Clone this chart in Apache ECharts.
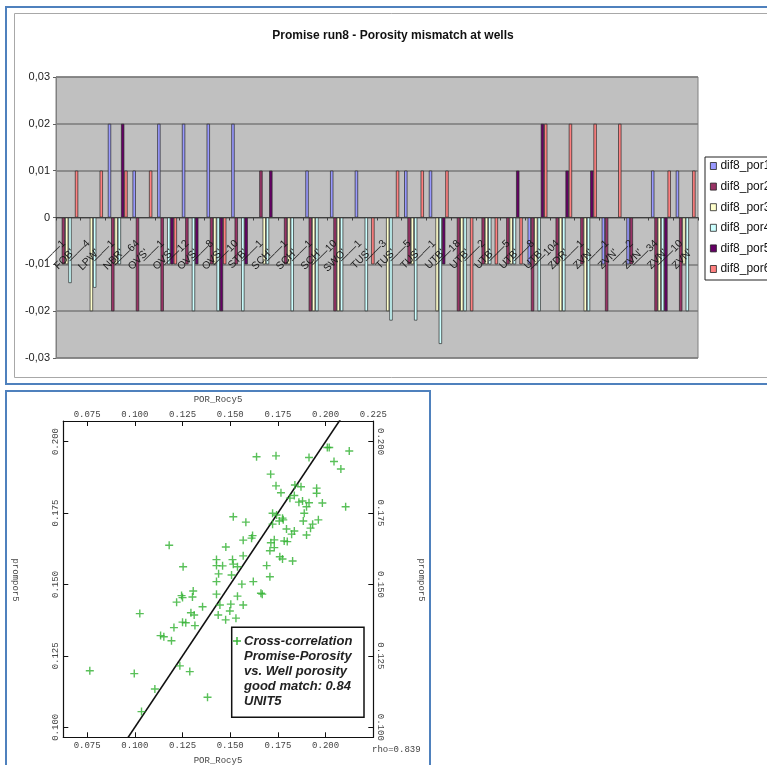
<!DOCTYPE html>
<html>
<head>
<meta charset="utf-8">
<script src="https://cdn.jsdelivr.net/npm/echarts@6/dist/echarts.min.js"></script>
<style>
  html, body { margin: 0; padding: 0; background: #fff; }
  #chart { width: 767px; height: 765px; }
</style>
</head>
<body>
<div id="chart"></div>
<script>
// ---- Porosity mismatch per well (bar chart) ----
const wellNames = ["FOB'", "LPW'", "NBR'", "OVS'", "OVS'", "OVS'", "OVS'", "STB'", "SCH'", "SCH'", "SCH'", "SWO'", "TUS'",
                   "TUS'", "TUS'", "UTB'", "UTB'", "UTB'", "UTB'", "UTB'", "ZDR'", "ZVN'", "ZVN'", "ZVN'", "ZVN'", "ZVN'"];
const wellNumbers = ["1", "4", "1", "64", "1", "12", "8", "10", "1", "1", "1", "10", "1",
                     "3", "5", "1", "18", "2", "5", "8", "104", "1", "1", "2", "34", "10"];
const seriesNames = ["dif8_por1", "dif8_por2", "dif8_por3", "dif8_por4", "dif8_por5", "dif8_por6"];
const difPor1 = [0, 0, 0.02, 0.01, 0.02, 0.02, 0.02, 0.02, 0, 0, 0.01, 0.01, 0.01, 0, 0.01, 0.01, 0, 0, 0, -0.01, 0, 0, -0.01, -0.01, 0.01, 0.01];
const difPor2 = [-0.01, 0, -0.02, -0.02, -0.02, -0.01, -0.01, -0.01, 0.01, -0.01, -0.02, -0.02, 0, 0, -0.01, 0, -0.02, -0.01, -0.01, -0.02, -0.01, -0.01, -0.02, -0.01, -0.02, -0.02];
const difPor3 = [-0.01, -0.02, -0.01, 0, 0, 0, -0.01, 0, -0.01, -0.01, -0.02, -0.02, 0, -0.02, -0.01, -0.02, -0.02, -0.01, -0.01, -0.01, -0.02, -0.02, 0, 0, -0.02, -0.01];
const difPor4 = [-0.014, -0.015, -0.01, 0, -0.01, -0.02, -0.02, -0.02, -0.01, -0.02, -0.02, -0.02, -0.02, -0.022, -0.022, -0.027, -0.02, -0.01, -0.01, -0.02, -0.02, -0.02, 0, 0, -0.02, -0.02];
const difPor5 = [0, 0, 0.02, 0, -0.01, -0.01, -0.02, -0.01, 0.01, 0, 0, 0, 0, 0, 0, -0.01, 0, 0, 0.01, 0.02, 0.01, 0.01, 0, 0, -0.02, 0];
const difPor6 = [0.01, 0.01, 0.01, 0.01, -0.01, 0, -0.01, 0, 0, 0, 0, 0, -0.01, 0.01, 0.01, 0.01, -0.02, -0.01, -0.01, 0.02, 0.02, 0.02, 0.02, 0, 0.01, 0.01];
const barColors = ["#9999FF", "#993366", "#FFFFCC", "#CCFFFF", "#660066", "#FF8080"];

// ---- Cross-correlation of model vs. well porosity (scatter) ----
const porRocy5 = [0.2019, 0.2009, 0.2124, 0.1638, 0.1740, 0.1913, 0.2044, 0.2080, 0.1712, 0.1839,
                  0.1871, 0.1740, 0.1953, 0.1953, 0.1766, 0.1813, 0.1836, 0.1860, 0.1879, 0.1913,
                  0.1983, 0.2105, 0.1900, 0.1888, 0.1722, 0.1743, 0.1516, 0.1774, 0.1778, 0.1757,
                  0.1883, 0.1962, 0.1582, 0.1722, 0.1932, 0.1795, 0.1836, 0.1822, 0.1921, 0.1900,
                  0.1617, 0.1612, 0.1568, 0.1731, 0.1783, 0.1799, 0.1713, 0.1180, 0.1477, 0.1731,
                  0.1708, 0.1760, 0.1774, 0.1827, 0.1568, 0.1512, 0.1428, 0.1516, 0.1428, 0.1460,
                  0.1253, 0.1538, 0.1691, 0.1439, 0.1507, 0.1708, 0.1428, 0.1621, 0.1561, 0.1306,
                  0.1245, 0.1250, 0.1302, 0.1428, 0.1661, 0.1668, 0.1538, 0.1219, 0.1446, 0.1355,
                  0.1503, 0.1568, 0.1026, 0.1294, 0.1311, 0.1437, 0.1498, 0.1530, 0.1476, 0.1250,
                  0.1267, 0.1315, 0.1205, 0.1135, 0.1152, 0.1192, 0.1236, 0.0764, 0.0997, 0.1288,
                  0.1105, 0.1381, 0.1035];
const promPor5 = [0.1979, 0.1979, 0.1967, 0.1947, 0.1950, 0.1944, 0.1930, 0.1904, 0.1886, 0.1848,
                  0.1842, 0.1845, 0.1837, 0.1819, 0.1821, 0.1802, 0.1811, 0.1788, 0.1792, 0.1786,
                  0.1785, 0.1772, 0.1772, 0.1749, 0.1749, 0.1743, 0.1737, 0.1732, 0.1726, 0.1722,
                  0.1722, 0.1726, 0.1718, 0.1711, 0.1711, 0.1694, 0.1687, 0.1676, 0.1697, 0.1673,
                  0.1671, 0.1662, 0.1655, 0.1656, 0.1652, 0.1650, 0.1646, 0.1637, 0.1631, 0.1629,
                  0.1618, 0.1597, 0.1589, 0.1582, 0.1600, 0.1587, 0.1587, 0.1571, 0.1566, 0.1565,
                  0.1562, 0.1562, 0.1566, 0.1537, 0.1533, 0.1527, 0.1510, 0.1510, 0.1501, 0.1477,
                  0.1461, 0.1454, 0.1456, 0.1466, 0.1469, 0.1466, 0.1459, 0.1438, 0.1428, 0.1422,
                  0.1431, 0.1428, 0.1398, 0.1401, 0.1393, 0.1393, 0.1407, 0.1382, 0.1376, 0.1368,
                  0.1366, 0.1356, 0.1349, 0.1321, 0.1317, 0.1303, 0.1215, 0.1198, 0.1188, 0.1195,
                  0.1134, 0.1105, 0.1055];
// one-to-one reference line (perfect match)
const matchLine = [[0.09, 0.09], [0.215, 0.215]];
const porTicks = [0.075, 0.100, 0.125, 0.150, 0.175, 0.200];
const porTicksTop = [0.075, 0.100, 0.125, 0.150, 0.175, 0.200, 0.225];
const promTicks = [0.100, 0.125, 0.150, 0.175, 0.200];
const legendLines = ["Cross-correlation", "Promise-Porosity", "vs. Well porosity", "good match: 0.84", "UNIT5"];

const difSeries = [difPor1, difPor2, difPor3, difPor4, difPor5, difPor6];
const categories = wellNames.map((n, i) => "\u2014\u2014" + wellNumbers[i] + "\n" + n);
const sans = "'Liberation Sans', Arial, sans-serif";
const narrow = "'Liberation Sans Narrow', 'Arial Narrow', 'Liberation Sans', sans-serif";
const mono = "'Liberation Mono', 'DejaVu Sans Mono', monospace";

const chart = echarts.init(document.getElementById('chart'), null, { renderer: 'canvas' });

// bar grid geometry: zero line sits halfway between top and bottom of the plot
const barTop = 77, barBottomPx = 358;
const zeroOffset = -(barBottomPx - barTop) / 2;

const barSeries = difSeries.map((vals, k) => ({
  name: seriesNames[k],
  type: 'bar',
  xAxisIndex: 0,
  yAxisIndex: 0,
  barGap: '0%',
  barCategoryGap: '20%',
  itemStyle: { color: barColors[k], borderColor: '#2a2a2a', borderWidth: 0.7 },
  data: vals.map(v => (v === 0 ? null : v)),
  z: 3
}));

const monoLabel = { fontFamily: mono, fontSize: 9, color: '#444' };

const option = {
  animation: false,
  backgroundColor: '#fff',
  grid: [
    { left: 56, right: 69, top: barTop, bottom: 765 - barBottomPx, containLabel: false, outerBoundsMode: 'none',
      show: true, backgroundColor: '#C0C0C0', borderColor: '#808080', borderWidth: 1 },
    { left: 63.3, top: 421, width: 310, height: 316.3, containLabel: false, outerBoundsMode: 'none' }
  ],
  legend: {
    data: seriesNames,
    orient: 'vertical',
    left: 705,
    top: 157,
    padding: [3, 24, 5, 5],
    itemGap: 8.6,
    itemWidth: 6,
    itemHeight: 7,
    icon: 'rect',
    backgroundColor: '#fff',
    borderColor: '#222',
    borderWidth: 1,
    borderRadius: 0,
    itemStyle: { borderColor: '#222', borderWidth: 0.8 },
    textStyle: { fontFamily: narrow, fontSize: 12, color: '#111', lineHeight: 12, padding: [0, 0, 0, -1] }
  },
  xAxis: [
    {
      gridIndex: 0,
      type: 'category',
      data: categories,
      position: 'bottom',
      offset: zeroOffset,
      z: 10,
      axisLine: { show: true, onZero: false, lineStyle: { color: '#404040', width: 1.2 } },
      axisTick: { show: true, length: 3, lineStyle: { color: '#404040' } },
      axisLabel: { interval: 0, rotate: 45, margin: 29, fontFamily: sans, fontSize: 10.5, color: '#1a1a1a', lineHeight: 13 },
      splitLine: { show: false }
    },
    {
      gridIndex: 1,
      type: 'value',
      position: 'bottom',
      min: 0.0625,
      max: 0.225,
      axisLine: { show: true, onZero: false, lineStyle: { color: '#111', width: 1.2 } },
      axisTick: { show: true, inside: true, length: 5, customValues: porTicks, lineStyle: { color: '#111' } },
      axisLabel: Object.assign({ margin: 4, customValues: porTicks, formatter: v => v.toFixed(3) }, monoLabel),
      splitLine: { show: false }
    },
    {
      gridIndex: 1,
      type: 'value',
      position: 'top',
      min: 0.0625,
      max: 0.225,
      axisLine: { show: true, onZero: false, lineStyle: { color: '#111', width: 1.2 } },
      axisTick: { show: true, inside: true, length: 5, customValues: porTicksTop, lineStyle: { color: '#111' } },
      axisLabel: Object.assign({ margin: 2, customValues: porTicksTop, formatter: v => v.toFixed(3) }, monoLabel),
      splitLine: { show: false }
    }
  ],
  yAxis: [
    {
      gridIndex: 0,
      type: 'value',
      min: -0.03,
      max: 0.03,
      interval: 0.01,
      axisLine: { show: true, lineStyle: { color: '#808080' } },
      axisTick: { show: true, length: 3, lineStyle: { color: '#606060' } },
      axisLabel: {
        margin: 6, fontFamily: sans, fontSize: 11, color: '#222',
        formatter: v => (Math.abs(v) < 1e-9 ? '0' : v.toFixed(2).replace('.', ','))
      },
      splitLine: { show: true, lineStyle: { color: '#7a7a7a', width: 1.6 } }
    },
    {
      gridIndex: 1,
      type: 'value',
      position: 'left',
      min: 0.0965,
      max: 0.2072,
      axisLine: { show: true, onZero: false, lineStyle: { color: '#111', width: 1.2 } },
      axisTick: { show: true, inside: true, length: 5, customValues: promTicks, lineStyle: { color: '#111' } },
      axisLabel: Object.assign({ rotate: 90, margin: 3, customValues: promTicks, formatter: v => v.toFixed(3) }, monoLabel),
      splitLine: { show: false }
    },
    {
      gridIndex: 1,
      type: 'value',
      position: 'right',
      min: 0.0965,
      max: 0.2072,
      axisLine: { show: true, onZero: false, lineStyle: { color: '#111', width: 1.2 } },
      axisTick: { show: true, inside: true, length: 5, customValues: promTicks, lineStyle: { color: '#111' } },
      axisLabel: Object.assign({ rotate: -90, margin: 3, customValues: promTicks, formatter: v => v.toFixed(3) }, monoLabel),
      splitLine: { show: false }
    }
  ],
  series: barSeries.concat([
    {
      name: 'matchLine',
      type: 'line',
      xAxisIndex: 1,
      yAxisIndex: 1,
      data: matchLine,
      showSymbol: false,
      clip: true,
      lineStyle: { color: '#111', width: 1.6 },
      z: 4
    },
    {
      name: 'crossplot',
      type: 'scatter',
      xAxisIndex: 1,
      yAxisIndex: 1,
      data: porRocy5.map((x, i) => [x, promPor5[i]]),
      symbol: 'path://M3.3,0h1.4v8h-1.4zM0,3.3h8v1.4h-8z',
      symbolSize: 8,
      itemStyle: { color: '#2fb02f' },
      z: 5
    }
  ]),
  graphic: [
    // panel frames
    { type: 'rect', shape: { x: 6, y: 7, width: 800, height: 377 }, style: { fill: null, stroke: '#4f81bd', lineWidth: 2 }, z: 0 },
    { type: 'rect', shape: { x: 14.5, y: 13.5, width: 800, height: 364 }, style: { fill: null, stroke: '#a8a8a8', lineWidth: 1 }, z: 0 },
    { type: 'rect', shape: { x: 6, y: 391, width: 424, height: 400 }, style: { fill: null, stroke: '#4f81bd', lineWidth: 2 }, z: 0 },
    // bar chart title
    { type: 'text', x: 393, y: 36, style: { text: 'Promise run8 - Porosity mismatch at wells', font: 'bold 12px ' + narrow, fill: '#111', textAlign: 'center', textVerticalAlign: 'middle' } },
    // scatter axis titles
    { type: 'text', x: 218, y: 400, style: { text: 'POR_Rocy5', font: '9px ' + mono, fill: '#444', textAlign: 'center', textVerticalAlign: 'middle' } },
    { type: 'text', x: 218, y: 761, style: { text: 'POR_Rocy5', font: '9px ' + mono, fill: '#444', textAlign: 'center', textVerticalAlign: 'middle' } },
    { type: 'text', x: 15, y: 580, rotation: -Math.PI / 2, style: { text: 'prompor5', font: '9px ' + mono, fill: '#444', textAlign: 'center', textVerticalAlign: 'middle' } },
    { type: 'text', x: 421, y: 580, rotation: -Math.PI / 2, style: { text: 'prompor5', font: '9px ' + mono, fill: '#444', textAlign: 'center', textVerticalAlign: 'middle' } },
    { type: 'text', x: 372, y: 750, style: { text: 'rho=0.839', font: '9px ' + mono, fill: '#444', textAlign: 'left', textVerticalAlign: 'middle' } },
    // scatter legend box
    { type: 'rect', shape: { x: 231.7, y: 627.3, width: 132.3, height: 90 }, style: { fill: '#fff', stroke: '#111', lineWidth: 1.5 }, z: 10 },
    { type: 'line', shape: { x1: 233, y1: 641, x2: 241, y2: 641 }, style: { stroke: '#2fb02f', lineWidth: 1.4 }, z: 11 },
    { type: 'line', shape: { x1: 237, y1: 637, x2: 237, y2: 645 }, style: { stroke: '#2fb02f', lineWidth: 1.4 }, z: 11 }
  ].concat(legendLines.map((t, i) => ({
    type: 'text', x: 244, y: 641 + 15 * i, z: 11,
    style: { text: t, font: 'italic bold 13px ' + sans, fill: '#222', textAlign: 'left', textVerticalAlign: 'middle' }
  })))
};

chart.setOption(option);
</script>
</body>
</html>
